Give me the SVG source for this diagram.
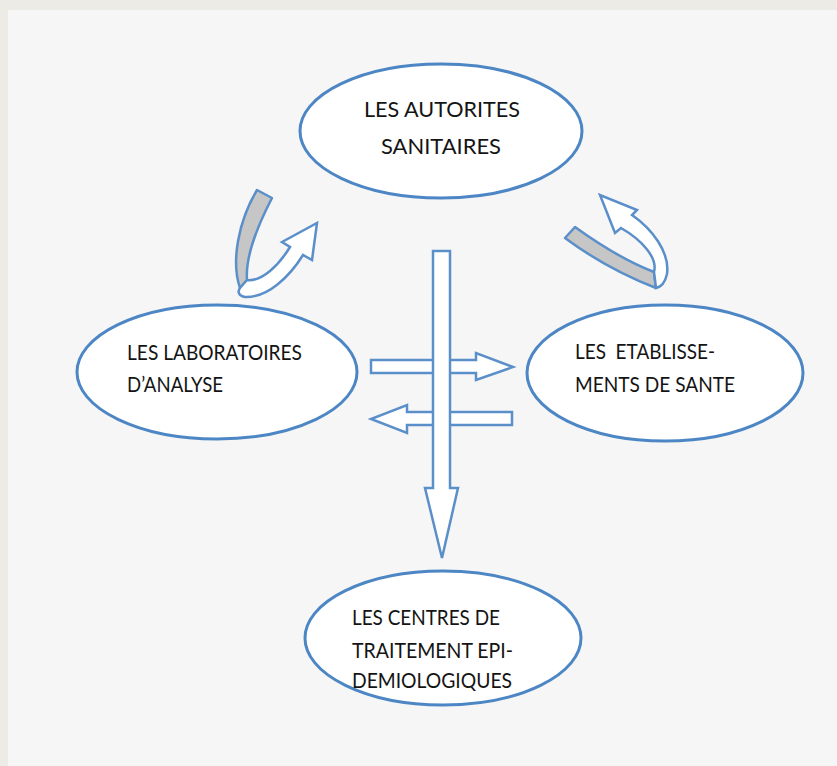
<svg xmlns="http://www.w3.org/2000/svg" width="837" height="766" viewBox="0 0 837 766">
<style>
.node{fill:#ffffff;stroke:#4d86c4;stroke-width:3}
.lbl{font-family:Lato,"Open Sans","Liberation Sans",sans-serif;font-size:21px;fill:#141414}
.arr{fill:#ffffff;stroke:#5b8fca;stroke-width:2.5;stroke-linejoin:miter}
.back{fill:#c6c6c6;stroke:#5b8fca;stroke-width:2.5;stroke-linejoin:round}
</style>
<rect x="0" y="0" width="837" height="766" fill="#ecebe6"/>
<rect x="8" y="10" width="829" height="756" fill="#f6f6f6"/>
<g id="connectors">
  <path class="arr" d="M371,360 H476 V353 L513,367 L476,380 V373 H371 Z"/>
  <path class="arr" d="M512,412 H407 V405 L371,419 L407,433 V425 H512 Z"/>
  <path class="arr" d="M433,251 H450 V488 H458 L442,558 L425,488 H433 Z"/>
  <g id="uturn-left">
    <path class="back" d="M257,190 L272,198 C258,225 245,255 247,280 L240,288 C231,262 238,222 257,190 Z"/>
    <path class="arr" d="M247,280 C262,282 279,265 290,247 L282,242 L317,223 L312,260 L303,255 C290,276 268,298 245,297 C239,296 237,292 240,288 Z"/>
  </g>
  <g id="uturn-right">
    <path class="back" d="M575,227 C600,245 628,262 654,272 L656,288 C625,276 592,258 565,238 Z"/>
    <path class="arr" d="M654,272 C658,258 642,240 621,228 L615,233 L600,195 L637,210 L632,215 C652,229 670,252 667,274 C665,283 661,287 656,288 Z"/>
  </g>
</g>
<g id="node-autorites">
  <ellipse class="node" cx="441" cy="131" rx="141" ry="67"/>
  <text class="lbl" x="442" y="117" text-anchor="middle" textLength="156" lengthAdjust="spacingAndGlyphs">LES AUTORITES</text>
  <text class="lbl" x="441" y="154" text-anchor="middle" textLength="120" lengthAdjust="spacingAndGlyphs">SANITAIRES</text>
</g>
<g id="node-laboratoires">
  <ellipse class="node" cx="217" cy="372" rx="140" ry="67"/>
  <text class="lbl" x="127" y="360" textLength="175" lengthAdjust="spacingAndGlyphs">LES LABORATOIRES</text>
  <text class="lbl" x="127" y="392" textLength="96" lengthAdjust="spacingAndGlyphs">D’ANALYSE</text>
</g>
<g id="node-etablissements">
  <ellipse class="node" cx="665" cy="373" rx="138" ry="68"/>
  <text class="lbl" x="575" y="359" xml:space="preserve" textLength="140" lengthAdjust="spacingAndGlyphs">LES  ETABLISSE-</text>
  <text class="lbl" x="575" y="392" textLength="160" lengthAdjust="spacingAndGlyphs">MENTS DE SANTE</text>
</g>
<g id="node-centres">
  <ellipse class="node" cx="443" cy="638" rx="138" ry="67"/>
  <text class="lbl" x="352" y="625" textLength="148" lengthAdjust="spacingAndGlyphs">LES CENTRES DE</text>
  <text class="lbl" x="352" y="658" textLength="161" lengthAdjust="spacingAndGlyphs">TRAITEMENT EPI-</text>
  <text class="lbl" x="352" y="688" textLength="160" lengthAdjust="spacingAndGlyphs">DEMIOLOGIQUES</text>
</g>
</svg>
